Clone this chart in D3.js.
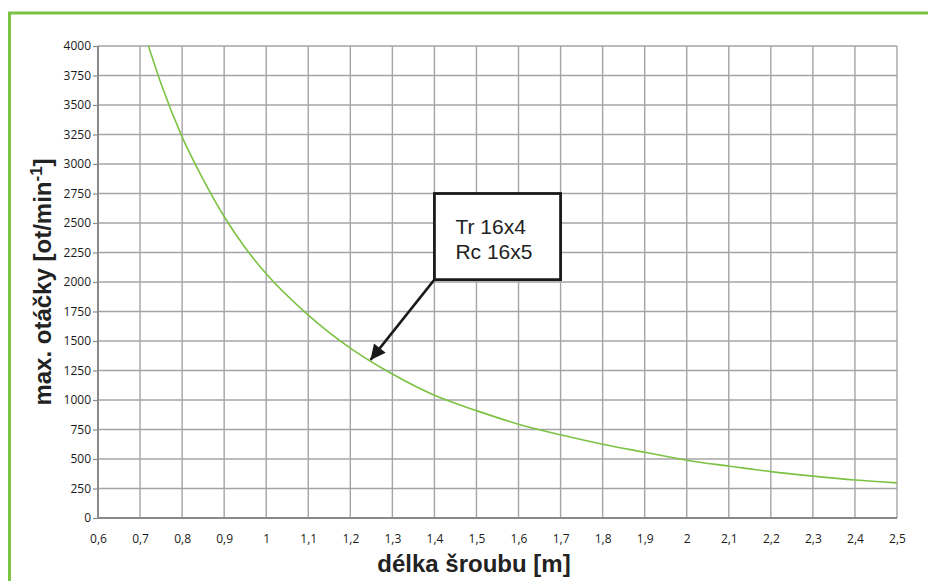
<!DOCTYPE html>
<html>
<head>
<meta charset="utf-8">
<script src="https://cdn.jsdelivr.net/npm/d3@7"></script>
<style>
  body { margin: 0; background: #fff; }
  svg { display: block; }
</style>
</head>
<body>
<div id="chart"></div>
<script>
// data
const lengths = [0.72, 0.75, 0.8, 0.85, 0.9, 0.95, 1.0, 1.1, 1.2, 1.3, 1.4, 1.5, 1.6, 1.7, 1.8, 1.9, 2.0, 2.1, 2.2, 2.3, 2.4, 2.5]
const maxRpm = [4000, 3680, 3230, 2870, 2555, 2290, 2070, 1720, 1440, 1220, 1040, 910, 795, 705, 625, 557, 490, 440, 393, 355, 322, 298]
const xTicks = [0.6, 0.7, 0.8, 0.9, 1, 1.1, 1.2, 1.3, 1.4, 1.5, 1.6, 1.7, 1.8, 1.9, 2, 2.1, 2.2, 2.3, 2.4, 2.5]
const yTicks = [0, 250, 500, 750, 1000, 1250, 1500, 1750, 2000, 2250, 2500, 2750, 3000, 3250, 3500, 3750, 4000]
const noteLines = ["Tr 16x4", "Rc 16x5"]
// annotation box (data units) and arrow tip
const noteBox = { x0: 1.4, x1: 1.7, y0: 2750, y1: 2020 }
const noteTip = { x: 1.248, y: 1340 }

const width = 928, height = 581
const margin = { top: 46, right: 31, bottom: 63, left: 98 }

const svg = d3.select("#chart")
  .append("svg")
    .attr("width", width)
    .attr("height", height)

const green = "#7cc243"

// frame
svg.append("rect")
  .attr("x", 9.5)
  .attr("y", 13)
  .attr("width", width + 20)
  .attr("height", height + 20)
  .attr("fill", "none")
  .attr("stroke", green)
  .attr("stroke-width", 3)

const xScale = d3.scaleLinear()
  .domain([0.6, 2.5])
  .range([margin.left, width - margin.right])

const yScale = d3.scaleLinear()
  .domain([0, 4000])
  .range([height - margin.bottom, margin.top])

const fmt = d => String(d).replace(".", ",")

// grid
svg.append("g")
  .selectAll("line")
  .data(xTicks.slice(1))
  .join("line")
    .attr("x1", d => xScale(d))
    .attr("x2", d => xScale(d))
    .attr("y1", yScale(4000))
    .attr("y2", yScale(0))
    .attr("stroke", "#a4a4a8")
    .attr("stroke-width", 1.4)

svg.append("g")
  .selectAll("line")
  .data(yTicks.slice(1))
  .join("line")
    .attr("x1", xScale(0.6))
    .attr("x2", xScale(2.5))
    .attr("y1", d => yScale(d))
    .attr("y2", d => yScale(d))
    .attr("stroke", "#a4a4a8")
    .attr("stroke-width", 1.4)

// y axis
const yAxis = svg.append("g")
  .attr("transform", `translate(${xScale(0.6)},0)`)
  .call(d3.axisLeft(yScale).tickValues(yTicks).tickSize(5).tickPadding(2).tickFormat(d => d))
yAxis.select(".domain").remove()
yAxis.selectAll(".tick line").attr("stroke", "#8a8a8e").attr("stroke-width", 1.2)
yAxis.selectAll("text")
  .style("font-family", "'Open Sans', sans-serif")
  .style("font-size", "12px")
  .attr("fill", "#1a1a1a")

// x axis labels
const xAxis = svg.append("g")
  .attr("transform", `translate(0,${yScale(0)})`)
  .call(d3.axisBottom(xScale).tickValues(xTicks).tickSize(0).tickPadding(16).tickFormat(fmt))
xAxis.select(".domain").remove()
xAxis.selectAll("text")
  .style("font-family", "'Open Sans', sans-serif")
  .style("font-size", "12px")
  .attr("fill", "#1a1a1a")

// axis lines
svg.append("line")
  .attr("x1", xScale(0.6)).attr("x2", xScale(0.6))
  .attr("y1", yScale(4000)).attr("y2", yScale(0) + 1)
  .attr("stroke", "#8a8a8e").attr("stroke-width", 2)
svg.append("line")
  .attr("x1", xScale(0.6) - 1).attr("x2", xScale(2.5))
  .attr("y1", yScale(0)).attr("y2", yScale(0))
  .attr("stroke", "#8a8a8e").attr("stroke-width", 2)

// curve
const points = lengths.map((d, i) => [d, maxRpm[i]])
svg.append("path")
  .datum(points)
  .attr("d", d3.line()
    .x(d => xScale(d[0]))
    .y(d => yScale(d[1]))
    .curve(d3.curveMonotoneX))
  .attr("fill", "none")
  .attr("stroke", green)
  .attr("stroke-width", 1.6)

// annotation
svg.append("defs").append("marker")
  .attr("id", "arrow")
  .attr("viewBox", "0 0 10 10")
  .attr("refX", 10).attr("refY", 5)
  .attr("markerWidth", 7).attr("markerHeight", 6)
  .attr("markerUnits", "strokeWidth")
  .attr("orient", "auto")
  .append("path")
    .attr("d", "M0,0 L10,5 L0,10 Z")
    .attr("fill", "#1a1a1a")

svg.append("line")
  .attr("x1", xScale(noteBox.x0))
  .attr("y1", yScale(noteBox.y1))
  .attr("x2", xScale(noteTip.x))
  .attr("y2", yScale(noteTip.y))
  .attr("stroke", "#1a1a1a")
  .attr("stroke-width", 2.5)
  .attr("marker-end", "url(#arrow)")

svg.append("rect")
  .attr("x", xScale(noteBox.x0))
  .attr("y", yScale(noteBox.y0))
  .attr("width", xScale(noteBox.x1) - xScale(noteBox.x0))
  .attr("height", yScale(noteBox.y1) - yScale(noteBox.y0))
  .attr("fill", "#fff")
  .attr("stroke", "#1a1a1a")
  .attr("stroke-width", 2.8)

svg.append("g")
  .selectAll("text")
  .data(noteLines)
  .join("text")
    .text(d => d)
    .attr("x", xScale(noteBox.x0) + 21)
    .attr("y", (d, i) => yScale(noteBox.y0) + 40 + i * 25)
    .style("font-family", "'Liberation Sans', Arial, sans-serif")
    .style("font-size", "21px")
    .attr("fill", "#222")

// axis titles
svg.append("text")
  .text("délka šroubu [m]")
  .attr("x", 474)
  .attr("y", 572)
  .attr("text-anchor", "middle")
  .style("font-family", "'Liberation Sans', Arial, sans-serif")
  .style("font-size", "24px")
  .style("font-weight", "bold")
  .attr("fill", "#222")

const yTitle = svg.append("text")
  .attr("transform", `translate(51,${(yScale(0) + yScale(4000)) / 2}) rotate(-90)`)
  .attr("text-anchor", "middle")
  .style("font-family", "'Liberation Sans', Arial, sans-serif")
  .style("font-size", "24px")
  .style("font-weight", "bold")
  .attr("fill", "#222")
yTitle.append("tspan").text("max. otáčky [ot/min")
yTitle.append("tspan").text("-1").attr("dy", -9).style("font-size", "17px")
yTitle.append("tspan").text("]").attr("dy", 9)
</script>
</body>
</html>
